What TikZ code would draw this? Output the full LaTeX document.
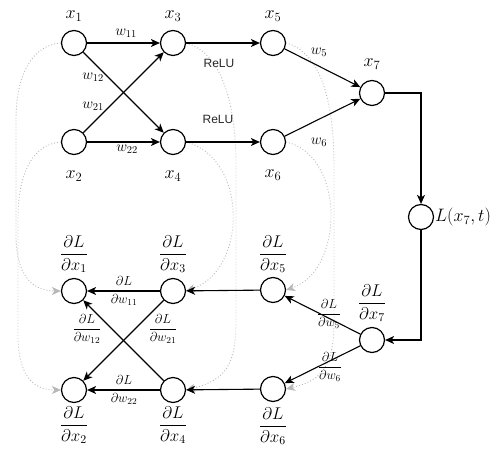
\RequirePackage{fix-cm}
\documentclass[tikz,border=0pt]{standalone}
\usepackage{amsmath}
\usepackage{fontspec}
\newfontfamily\relufont{Liberation Sans}
\usetikzlibrary{arrows.meta}
\definecolor{dotgray}{HTML}{B8B8B8}
\begin{document}
\begin{tikzpicture}[x=1pt,y=-1pt,
  neuron/.style={circle,draw,line width=1.2pt,minimum size=25pt,inner sep=0pt,fill=white},
  conn/.style={line width=1.1pt,-{Stealth[length=9pt,width=8pt,inset=2.5pt]}},
  grad/.style={draw=dotgray,line width=0.9pt,dash pattern=on 0.9pt off 2.1pt,-{Stealth[length=9pt,width=8pt,inset=2.5pt,fill=dotgray]}},
  xlab/.style={font=\fontsize{18}{21}\selectfont,inner sep=0pt},
  lab/.style={font=\fontsize{17}{20}\selectfont,inner sep=0pt},
  wlab/.style={font=\fontsize{15}{18}\selectfont,inner sep=0pt},
  glab/.style={font=\fontsize{13}{15}\selectfont,inner sep=0pt},
  relu/.style={font=\relufont\fontsize{12}{14}\selectfont,inner sep=0pt,text=black!85}]
\useasboundingbox (0,0) rectangle (498,455);
% forward nodes
\node[neuron] (x1) at (74,43) {};
\node[neuron] (x3) at (173,43) {};
\node[neuron] (x2) at (74,142) {};
\node[neuron] (x4) at (173,142) {};
\node[neuron] (x5) at (273,43) {};
\node[neuron] (x6) at (273,142) {};
\node[neuron] (x7) at (372,93) {};
\node[neuron] (L) at (421,217) {};
% backward nodes
\node[neuron] (d1) at (74,291) {};
\node[neuron] (d3) at (173,291) {};
\node[neuron] (d2) at (74,390) {};
\node[neuron] (d4) at (173,390) {};
\node[neuron] (d5) at (273,290) {};
\node[neuron] (d6) at (273,389) {};
\node[neuron] (d7) at (372,340) {};
% dotted links
\draw[grad] (x1.west) .. controls (32,45) and (16,75) .. (16,120) -- (16,235) .. controls (16,275) and (32,291) .. (d1.west);
\draw[grad] (x2.west) .. controls (32,144) and (18,175) .. (18,218) -- (18,335) .. controls (18,374) and (32,390) .. (d2.west);
\draw[grad] (x3.east) .. controls (220,52) and (236,100) .. (236,165) -- (236,320) .. controls (236,365) and (226,380) .. (d4.east);
\draw[grad] (x4.east) .. controls (248,158) and (248,270) .. (d3.east);
\draw[grad] (x5.east) .. controls (320,52) and (334,100) .. (334,165) -- (334,320) .. controls (334,364) and (324,380) .. (d6.east);
\draw[grad] (x6.east) .. controls (345,155) and (345,270) .. (d5.east);
% forward connectors
\draw[conn] (x1) -- (x3);
\draw[conn] (x1) -- (x4);
\draw[conn] (x2) -- (x3);
\draw[conn] (x2) -- (x4);
\draw[conn] (x3) -- (x5);
\draw[conn] (x4) -- (x6);
\draw[conn] (x5) -- (x7);
\draw[conn] (x6) -- (x7);
\draw[conn] (x7.east) -| (L.north);
\draw[conn] (L.south) |- (d7.east);
% backward connectors
\draw[conn] (d7) -- (d5);
\draw[conn] (d7) -- (d6);
\draw[conn] (d5) -- (d3);
\draw[conn] (d6) -- (d4);
\draw[conn] (d3) -- (d1);
\draw[conn] (d3) -- (d2);
\draw[conn] (d4) -- (d1);
\draw[conn] (d4) -- (d2);
% node labels
\node[xlab] (lx1) at (74,16) {$x_1$};
\node[xlab] (lx3) at (173,16) {$x_3$};
\node[xlab] (lx2) at (74,176) {$x_2$};
\node[xlab] (lx4) at (173,176) {$x_4$};
\node[xlab] (lx5) at (273,16) {$x_5$};
\node[xlab] (lx6) at (273,175) {$x_6$};
\node[xlab] (lx7) at (372,64) {$x_7$};
\node[xlab,anchor=west] (lL) at (435,217) {$L(x_7,t)$};
\node[lab] (ld1) at (74,254) {$\dfrac{\partial L}{\partial x_1}$};
\node[lab] (ld3) at (173,254) {$\dfrac{\partial L}{\partial x_3}$};
\node[lab] (ld2) at (74,425) {$\dfrac{\partial L}{\partial x_2}$};
\node[lab] (ld4) at (173,425) {$\dfrac{\partial L}{\partial x_4}$};
\node[lab] (ld5) at (273,254) {$\dfrac{\partial L}{\partial x_5}$};
\node[lab] (ld6) at (273,426) {$\dfrac{\partial L}{\partial x_6}$};
\node[lab] (ld7) at (372,303) {$\dfrac{\partial L}{\partial x_7}$};
% weight labels
\node[wlab] (w11) at (126,33) {$w_{11}$};
\node[wlab] (w12) at (93,77) {$w_{12}$};
\node[wlab] (w21) at (93,106) {$w_{21}$};
\node[wlab] (w22) at (127,149) {$w_{22}$};
\node[wlab] (w5) at (319,52) {$w_5$};
\node[wlab] (w6) at (319,142) {$w_6$};
\node[relu] (r1) at (219,63) {ReLU};
\node[relu] (r2) at (218,119) {ReLU};
% gradient labels
\node[glab] (g11) at (124,291) {$\dfrac{\partial L}{\partial w_{11}}$};
\node[glab] (g12) at (87,329) {$\dfrac{\partial L}{\partial w_{12}}$};
\node[glab] (g21) at (163,329) {$\dfrac{\partial L}{\partial w_{21}}$};
\node[glab] (g22) at (124,390) {$\dfrac{\partial L}{\partial w_{22}}$};
\node[glab] (g5) at (329,314) {$\dfrac{\partial L}{\partial w_5}$};
\node[glab] (g6) at (330,367) {$\dfrac{\partial L}{\partial w_6}$};
\end{tikzpicture}
\end{document}
